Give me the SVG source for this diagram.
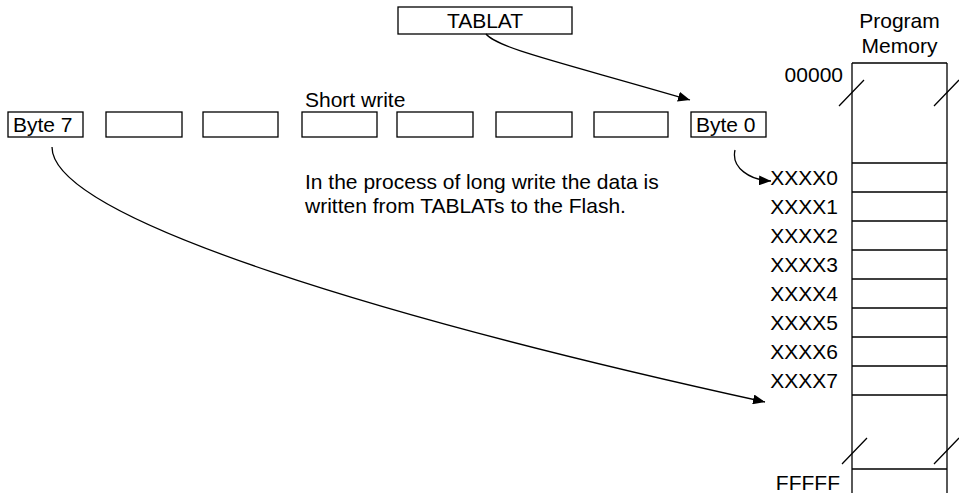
<svg xmlns="http://www.w3.org/2000/svg" width="959" height="493" viewBox="0 0 959 493">
<defs>
<style>
text{font-family:"Liberation Sans",Arial,sans-serif;font-size:21px;fill:#000}
.box{fill:#fff;stroke:#000;stroke-width:1.3}
.ln{fill:none;stroke:#000;stroke-width:1.3}
.r{text-anchor:end}
.c{text-anchor:middle}
</style>
<marker id="ah" viewBox="0 0 12 10" refX="12" refY="5" markerWidth="12" markerHeight="10" markerUnits="userSpaceOnUse" orient="auto">
<path d="M0,0 L12,5 L0,10 Z" fill="#000"/>
</marker>
</defs>
<rect width="959" height="493" fill="#fff"/>
<g id="tablat"><rect class="box" x="398" y="7" width="174" height="27"/><text class="c" x="485" y="28">TABLAT</text></g>
<g id="shortwrite"><text x="305" y="107">Short write</text></g>
<g id="byte7"><rect class="box" x="8" y="112" width="75" height="25"/><text x="13" y="132">Byte 7</text></g>
<g id="byte6"><rect class="box" x="106" y="112" width="76" height="25"/></g>
<g id="byte5"><rect class="box" x="203" y="112" width="75" height="25"/></g>
<g id="byte4"><rect class="box" x="302" y="112" width="75" height="25"/></g>
<g id="byte3"><rect class="box" x="397" y="112" width="76" height="25"/></g>
<g id="byte2"><rect class="box" x="496" y="112" width="76" height="25"/></g>
<g id="byte1"><rect class="box" x="594" y="112" width="74" height="25"/></g>
<g id="byte0"><rect class="box" x="691" y="112" width="75" height="25"/><text x="696" y="132">Byte 0</text></g>
<g id="note"><text x="305" y="189">In the process of long write the data is</text><text x="305" y="213">written from TABLATs to the Flash.</text></g>
<g id="memory">
<text class="c" x="899.5" y="28">Program</text>
<text class="c" x="899.5" y="53">Memory</text>
<path class="ln" d="M852,63 H947 M852,63 V493 M947,63 V493 M852,163 H947 M852,192 H947 M852,221 H947 M852,250 H947 M852,279 H947 M852,308 H947 M852,337 H947 M852,366 H947 M852,395 H947 M852,469 H947"/>
<path class="ln" d="M839,106 L864,80 M934,106 L959,80 M842,464 L867,438 M934,464 L959,438"/>
<text class="r" x="843" y="82">00000</text>
<text class="r" x="838" y="185">XXXX0</text>
<text class="r" x="838" y="214">XXXX1</text>
<text class="r" x="838" y="243">XXXX2</text>
<text class="r" x="838" y="272">XXXX3</text>
<text class="r" x="838" y="301">XXXX4</text>
<text class="r" x="838" y="330">XXXX5</text>
<text class="r" x="838" y="359">XXXX6</text>
<text class="r" x="838" y="388">XXXX7</text>
<text class="r" x="840" y="490">FFFFF</text>
</g>
<g id="connectors">
<path class="ln" d="M486,34 C497,48 560,62 690,100" marker-end="url(#ah)"/>
<path class="ln" d="M735,150 C731,168 750,180 771,181" marker-end="url(#ah)"/>
<path class="ln" d="M52,147 C52,220 400,322 765,402" marker-end="url(#ah)"/>
</g>
</svg>
